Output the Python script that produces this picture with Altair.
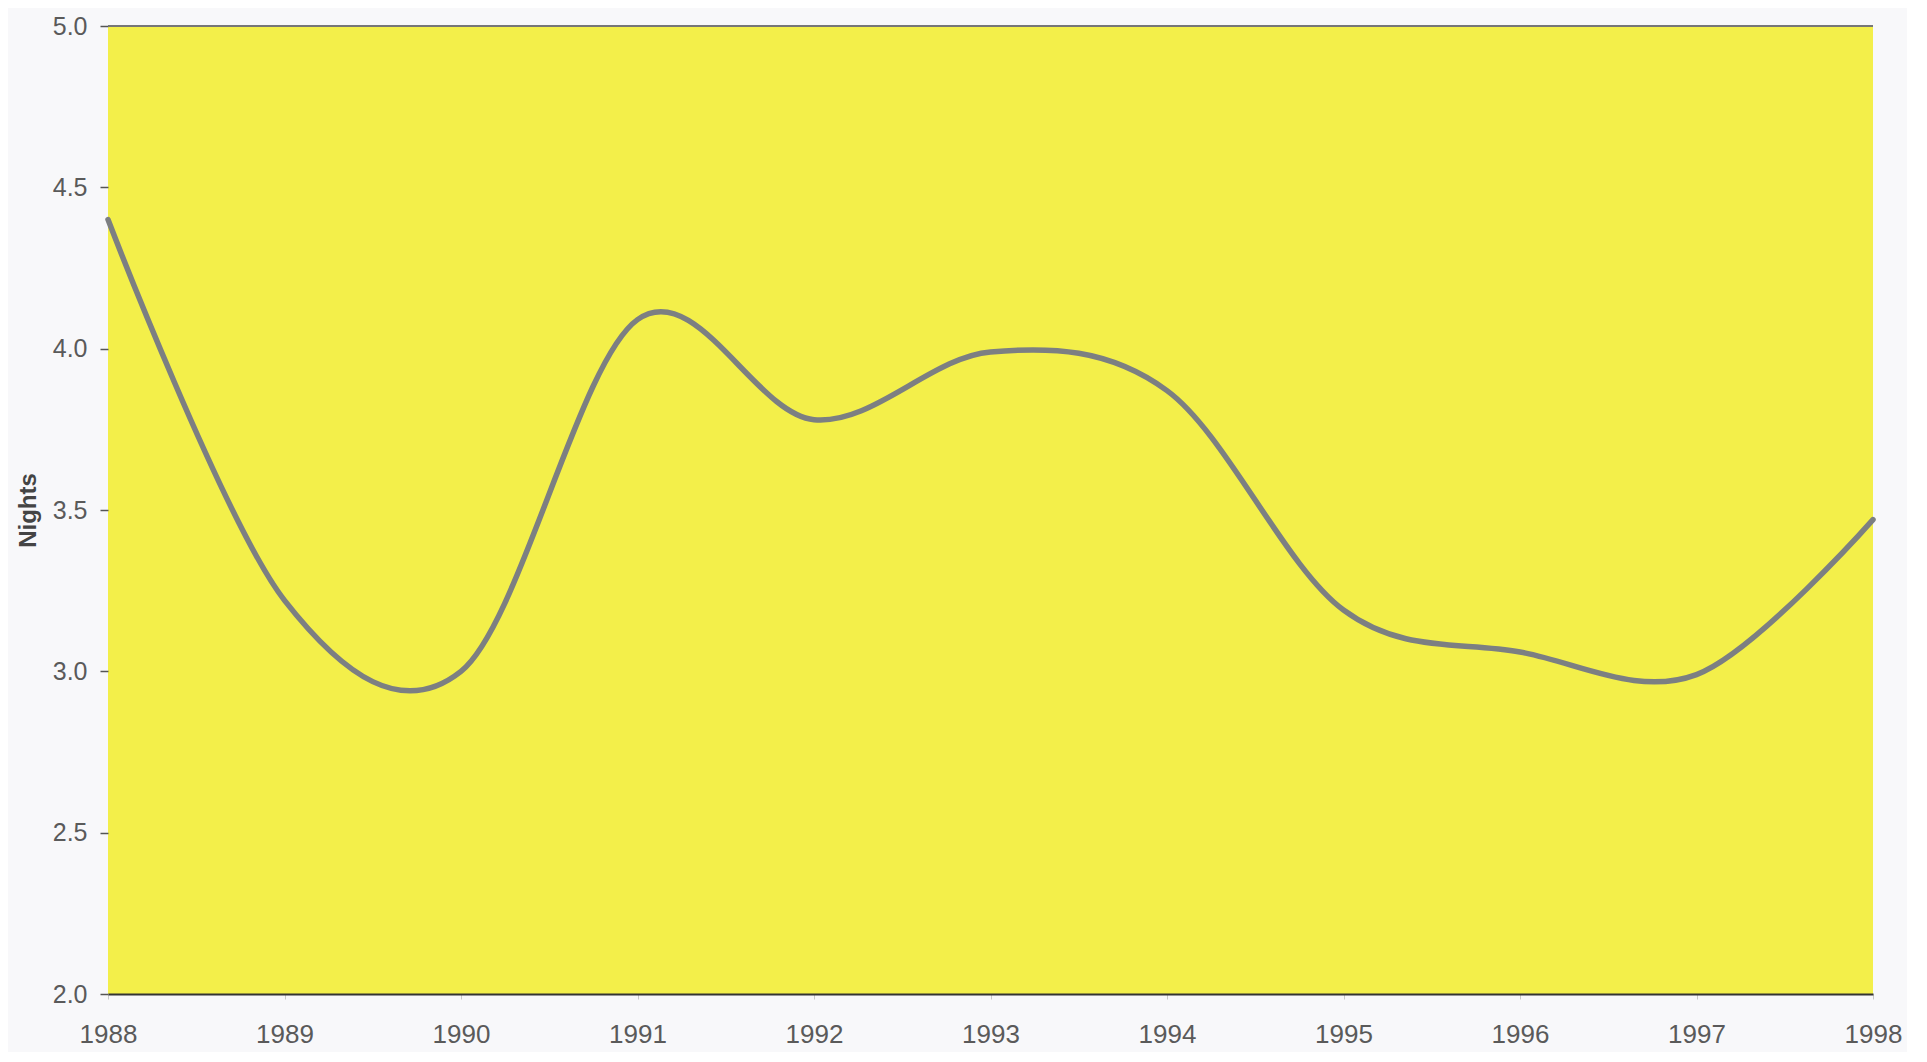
import altair as alt
import pandas as pd

years = [1988, 1989, 1990, 1991, 1992, 1993, 1994, 1995, 1996, 1997, 1998]
nights = [4.40, 3.22, 3.00, 4.09, 3.78, 3.99, 3.87, 3.19, 3.06, 2.99, 3.47]
y_ticks = [2.0, 2.5, 3.0, 3.5, 4.0, 4.5, 5.0]

df = pd.DataFrame({"year": years, "nights": nights})

FONT = "Liberation Sans"

x = alt.X(
    "year:Q",
    scale=alt.Scale(domain=[1988, 1998], nice=False, zero=False),
    axis=alt.Axis(
        values=years, format="d", title=None,
        labelFontSize=26, labelColor="#5a5a5a", labelFont=FONT, labelPadding=22,
        labelFlush=False, labelOverlap=False,
        tickSize=5, tickColor="#c8c8c8", domainColor="#333333", domainWidth=2,
        grid=False,
    ),
)
y = alt.Y(
    "nights:Q",
    scale=alt.Scale(domain=[2, 5], nice=False, zero=False),
    axis=alt.Axis(
        values=y_ticks, format=".1f", title="Nights",
        titleFontSize=24, titleFontWeight="bold", titleColor="#444444", titleFont=FONT,
        titlePadding=12,
        labelFontSize=25, labelColor="#5a5a5a", labelFont=FONT, labelPadding=13,
        labelFlush=False,
        tickSize=8, tickColor="#555555", tickWidth=1.5, domain=False, grid=False,
    ),
)

line = alt.Chart(df).mark_line(
    interpolate="cardinal", color="#7c7f82", strokeWidth=5.5, strokeCap="round"
).encode(x=x, y=y)

top_rule = alt.Chart(df).mark_rule(color="#777777", strokeWidth=1.5).encode(
    y=alt.datum(5.0)
)

chart = (
    alt.layer(top_rule, line)
    .properties(width=1765, height=968, background="#f8f8fa",
                padding={"left": 8, "top": 6, "right": 5, "bottom": 5})
    .configure_view(fill="#f3ef4a", stroke=None)
)

chart.save("out.html", embed_options={"renderer": "svg", "actions": False})
